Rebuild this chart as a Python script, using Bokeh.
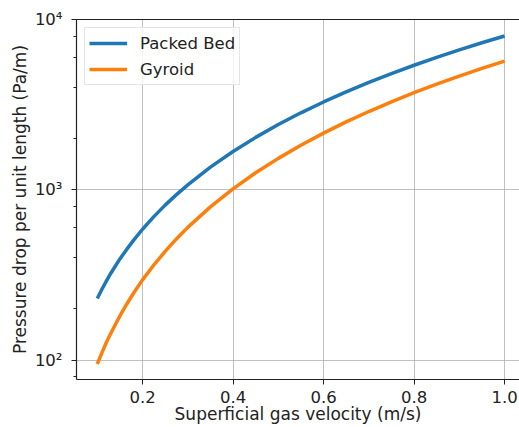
from bokeh.plotting import figure
from bokeh.models import Range1d, FixedTicker, LogTicker, Legend, LegendItem, LinearAxis
from bokeh.embed import file_html
from bokeh.resources import INLINE

velocity = [0.100, 0.110, 0.120, 0.130, 0.140, 0.150, 0.165, 0.180, 0.200, 0.225,
            0.250, 0.275, 0.300, 0.350, 0.400, 0.450, 0.500, 0.550, 0.600, 0.650,
            0.700, 0.750, 0.800, 0.850, 0.900, 0.950, 1.000]
packed_bed = [230, 260, 291, 324, 357, 393, 447, 505, 587, 696,
              813, 937, 1070, 1359, 1680, 2032, 2417, 2833, 3280, 3759,
              4270, 4813, 5387, 5992, 6630, 7299, 8000]
gyroid = [95, 110, 127, 144, 162, 182, 213, 247, 296, 362,
          435, 515, 602, 794, 1013, 1259, 1530, 1829, 2153, 2504,
          2882, 3285, 3716, 4172, 4655, 5164, 5700]

x_ticks = [0.2, 0.4, 0.6, 0.8, 1.0]
y_tick_labels = {100: "10²", 1000: "10³", 10000: "10⁴"}
x_title = "Superficial gas velocity (m/s)"
y_title = "Pressure drop per unit length (Pa/m)"

FONT = "DejaVu Sans"

p = figure(width=519, height=427, output_backend="svg", toolbar_location=None,
           y_axis_type="log",
           x_range=Range1d(0.0541, 1.033), y_range=Range1d(77, 10000),
           min_border_left=76, min_border_right=0, min_border_top=19, min_border_bottom=48)
p.outline_line_color = None
p.background_fill_color = "white"
p.border_fill_color = "white"

r1 = p.line(velocity, packed_bed, line_color="#1f77b4", line_width=3.5)
r2 = p.line(velocity, gyroid, line_color="#ff7f0e", line_width=3.5)

xa = p.xaxis[0]
xa.ticker = FixedTicker(ticks=x_ticks)
xa.major_label_overrides = {t: f"{t:.1f}" for t in x_ticks}
xa.axis_label = x_title
ya = p.yaxis[0]
ya.ticker = LogTicker(desired_num_ticks=3)
ya.major_label_overrides = y_tick_labels
ya.axis_label = y_title

for ax in (xa, ya):
    ax.axis_line_color = "#222222"
    ax.axis_line_width = 1.2
    ax.major_tick_line_color = "#222222"
    ax.minor_tick_line_color = "#222222"
    ax.major_tick_in = 0
    ax.major_tick_out = 5
    ax.minor_tick_in = 0
    ax.minor_tick_out = 3
    ax.major_label_text_font = FONT
    ax.major_label_text_font_size = "16.5px"
    ax.major_label_text_color = "#222222"
    ax.axis_label_text_font = FONT
    ax.axis_label_text_font_size = "17px"
    ax.axis_label_text_font_style = "normal"
    ax.axis_label_text_color = "#222222"
xa.minor_tick_line_color = None
xa.major_label_standoff = 6
xa.axis_label_standoff = -2
ya.major_label_standoff = 9
ya.axis_label_standoff = 2

top = LinearAxis(ticker=FixedTicker(ticks=[]), major_tick_line_color=None,
                 minor_tick_line_color=None, axis_line_color="#222222", axis_line_width=1.2)
p.add_layout(top, "above")

p.xgrid.ticker = FixedTicker(ticks=x_ticks)
for g in (p.xgrid[0], p.ygrid[0]):
    g.grid_line_color = "#b0b0b0"
    g.grid_line_width = 1
    g.grid_line_alpha = 0.8

legend = Legend(items=[LegendItem(label="Packed Bed", renderers=[r1]),
                       LegendItem(label="Gyroid", renderers=[r2])],
                location="top_left")
legend.label_text_font = FONT
legend.label_text_font_size = "16.5px"
legend.label_text_color = "#222222"
legend.glyph_width = 38
legend.glyph_height = 22
legend.label_height = 22
legend.spacing = 4
legend.padding = 4
legend.margin = 8
legend.label_standoff = 13
legend.border_line_color = "#cccccc"
legend.border_line_width = 1
legend.background_fill_alpha = 0.8
p.add_layout(legend)

open("out.html", "w").write(file_html(p, INLINE))
